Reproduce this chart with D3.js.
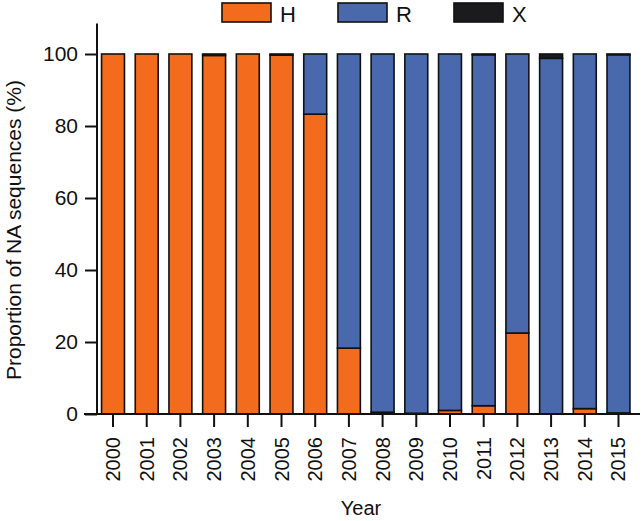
<!DOCTYPE html>
<html>
<head>
<meta charset="utf-8">
<script src="https://cdn.jsdelivr.net/npm/d3@7"></script>
<style>
  body { margin: 0; background: #fff; }
  text { font-family: "Liberation Sans", Arial, sans-serif; fill: #111; }
</style>
</head>
<body>
<div id="chart"></div>
<script>
var years = ["2000","2001","2002","2003","2004","2005","2006","2007",
             "2008","2009","2010","2011","2012","2013","2014","2015"];
var valuesH = [100, 100, 100, 99.6, 100, 99.7, 83.3, 18.3, 0.5, 0.2, 1.0, 2.3, 22.5, 0, 1.5, 0.3];
var valuesR = [0, 0, 0, 0, 0, 0, 16.7, 81.7, 99.5, 99.8, 99.0, 97.5, 77.5, 98.8, 98.5, 99.5];
var valuesX = [0, 0, 0, 0.4, 0, 0.3, 0, 0, 0, 0, 0, 0.2, 0, 1.2, 0, 0.2];
var seriesKeys = ["H", "R", "X"];
var yTicks = [0, 20, 40, 60, 80, 100];

var colors = { H: "#f36b1c", R: "#4a69ad", X: "#1b1b1d" };
var width = 644, height = 521;

var rows = years.map(function(y, i) {
    return { year: y, H: valuesH[i], R: valuesR[i], X: valuesX[i] };
});
var stacked = d3.stack().keys(seriesKeys)(rows);

var svg = d3.select("#chart").append("svg")
    .attr("width", width)
    .attr("height", height);

var x = d3.scaleBand()
    .domain(years)
    .range([96.5, 635])
    .paddingInner(0.32)
    .paddingOuter(0.15);

var y = d3.scaleLinear()
    .domain([0, 100])
    .range([414, 54]);

// bars
svg.selectAll(".layer")
    .data(stacked)
    .enter().append("g")
        .attr("class", "layer")
        .attr("fill", function(d) { return colors[d.key]; })
    .selectAll("rect")
    .data(function(d) { return d; })
    .enter().append("rect")
        .attr("x", function(d) { return x(d.data.year); })
        .attr("y", function(d) { return y(d[1]); })
        .attr("width", x.bandwidth())
        .attr("height", function(d) { return y(d[0]) - y(d[1]); })
        .attr("stroke", "#111")
        .attr("stroke-width", function(d) { return (d[1] - d[0]) > 0 ? 1.6 : 0; });

// y axis
var yAxis = svg.append("g")
    .attr("transform", "translate(97,0)")
    .call(d3.axisLeft(y).tickValues(yTicks).tickSize(12).tickSizeOuter(0).tickPadding(7));
yAxis.select(".domain").remove();
yAxis.append("line")
    .attr("x1", 0).attr("x2", 0)
    .attr("y1", y(108.5)).attr("y2", y(0))
    .attr("stroke", "#111").attr("stroke-width", 2);
yAxis.selectAll(".tick line").attr("stroke", "#111").attr("stroke-width", 2);
yAxis.selectAll(".tick text")
    .style("font-size", "21px")
    .style("font-family", "'Liberation Sans', Arial, sans-serif")
    .attr("fill", "#111");

// x axis
var xAxis = svg.append("g")
    .attr("transform", "translate(0,414)")
    .call(d3.axisBottom(x).tickSize(13).tickSizeOuter(0));
xAxis.select(".domain").remove();
xAxis.append("line")
    .attr("x1", 84).attr("x2", 640)
    .attr("y1", 0).attr("y2", 0)
    .attr("stroke", "#111").attr("stroke-width", 2);
xAxis.selectAll(".tick line").attr("stroke", "#111").attr("stroke-width", 2);
xAxis.selectAll(".tick text")
    .style("font-size", "20px")
    .style("font-family", "'Liberation Sans', Arial, sans-serif")
    .attr("fill", "#111")
    .attr("text-anchor", "end")
    .attr("dy", "0.35em")
    .attr("transform", "translate(0,10) rotate(-90)")
    .attr("x", -13)
    .attr("y", 0);

// axis titles
svg.append("text")
    .attr("x", 361)
    .attr("y", 515)
    .attr("text-anchor", "middle")
    .style("font-size", "20px")
    .text("Year");

svg.append("text")
    .attr("transform", "translate(21,230) rotate(-90)")
    .attr("text-anchor", "middle")
    .style("font-size", "21px")
    .text("Proportion of NA sequences (%)");

// legend
var legend = svg.selectAll(".legend")
    .data(seriesKeys)
    .enter().append("g")
        .attr("class", "legend")
        .attr("transform", function(d, i) { return "translate(" + (222 + i * 116) + ",3)"; });
legend.append("rect")
    .attr("width", 49)
    .attr("height", 19)
    .attr("fill", function(d) { return colors[d]; })
    .attr("stroke", "#111")
    .attr("stroke-width", 1.6);
legend.append("text")
    .attr("x", 58)
    .attr("y", 19)
    .style("font-size", "22px")
    .text(function(d) { return d; });
</script>
</body>
</html>
